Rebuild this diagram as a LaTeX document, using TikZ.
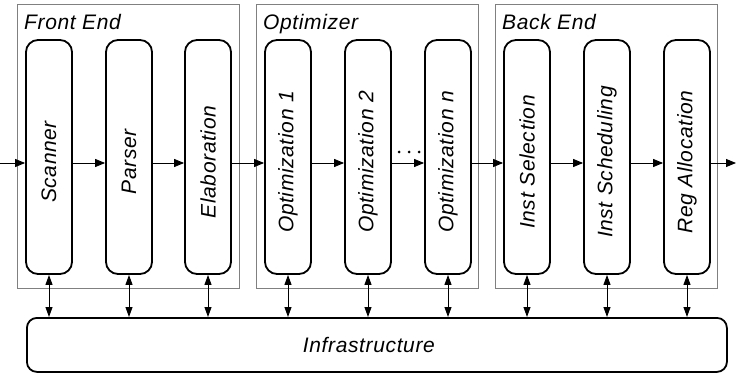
\documentclass[tikz,border=0pt]{standalone}
\usepackage{graphicx}
\usepackage{fontspec}
\newfontfamily\diagfont[LetterSpace=3]{Liberation Sans}
\usetikzlibrary{arrows.meta}
\definecolor{groupgray}{RGB}{128,128,128}
\begin{document}
\begin{tikzpicture}[x=1pt,y=-1pt,
  every node/.style={font=\diagfont\itshape\fontsize{21}{25}\selectfont},
  group/.style={draw=groupgray, line width=1.2pt, minimum width=222pt,
    minimum height=284pt, anchor=north west, inner sep=0pt},
  grouplabel/.style={anchor=base west, inner sep=0pt},
  stage/.style={draw, line width=1.8pt, rounded corners=12pt,
    minimum width=46pt, minimum height=234pt, inner sep=0pt},
  flow/.style={-{Triangle[length=10pt,width=8pt]}, line width=0.9pt},
  link/.style={{Triangle[length=10pt,width=7pt]}-{Triangle[length=10pt,width=7pt]},
    line width=0.9pt},
]
\useasboundingbox (0,0) rectangle (738,374);

% compiler phases
\node[group] (fe)  at (17,4)  {};
\node[group] (opt) at (256,4) {};
\node[group] (be)  at (495,4) {};
\node[grouplabel] (felbl)  at ([shift={(7pt,-26pt)}]fe.north west)  {Front End};
\node[grouplabel] (optlbl) at ([shift={(7pt,-26pt)}]opt.north west) {Optimizer};
\node[grouplabel] (belbl)  at ([shift={(7pt,-26pt)}]be.north west)  {Back End};

% individual passes
\node[stage] (s1) at (49,157)  {\rotatebox{90}{Scanner\hspace*{10pt}}};
\node[stage] (s2) at (129,157) {\rotatebox{90}{Parser\hspace*{10pt}}};
\node[stage] (s3) at (208,157) {\rotatebox{90}{Elaboration\hspace*{10pt}}};
\node[stage] (s4) at (288,157) {\rotatebox{90}{Optimization 1\hspace*{10pt}}};
\node[stage] (s5) at (368,157) {\rotatebox{90}{Optimization 2\hspace*{10pt}}};
\node[stage] (s6) at (448,157) {\rotatebox{90}{Optimization n\hspace*{10pt}}};
\node[stage] (s7) at (527,157) {\rotatebox{90}{Inst Selection\hspace*{10pt}}};
\node[stage] (s8) at (607,157) {\rotatebox{90}{Inst Scheduling\hspace*{10pt}}};
\node[stage] (s9) at (687,157) {\rotatebox{90}{Reg Allocation\hspace*{10pt}}};

% shared infrastructure
\node[draw, line width=1.8pt, rounded corners=10pt, minimum width=700pt,
  minimum height=54pt, anchor=north west, inner sep=0pt] (infra) at (26,317)
  {\hspace*{-16pt}Infrastructure};

% data flow through the passes
\coordinate (in)  at (0,163);
\coordinate (out) at (736,163);
\draw[flow] (in) -- (s1.west |- in);
\foreach \a/\b in {s1/s2, s2/s3, s3/s4, s4/s5, s5/s6, s6/s7, s7/s8, s8/s9}
  \draw[flow] (\a.east |- in) -- (\b.west |- in);
\draw[flow] (s9.east |- out) -- (out);

% elided optimization passes
\foreach \x in {399,409,419}
  \fill (\x,152) circle (1.5pt);

% links to the infrastructure
\foreach \s in {s1,s2,s3,s4,s5,s6,s7,s8,s9}
  \draw[link] (\s.south) -- (\s.south |- infra.north);
\end{tikzpicture}
\end{document}
